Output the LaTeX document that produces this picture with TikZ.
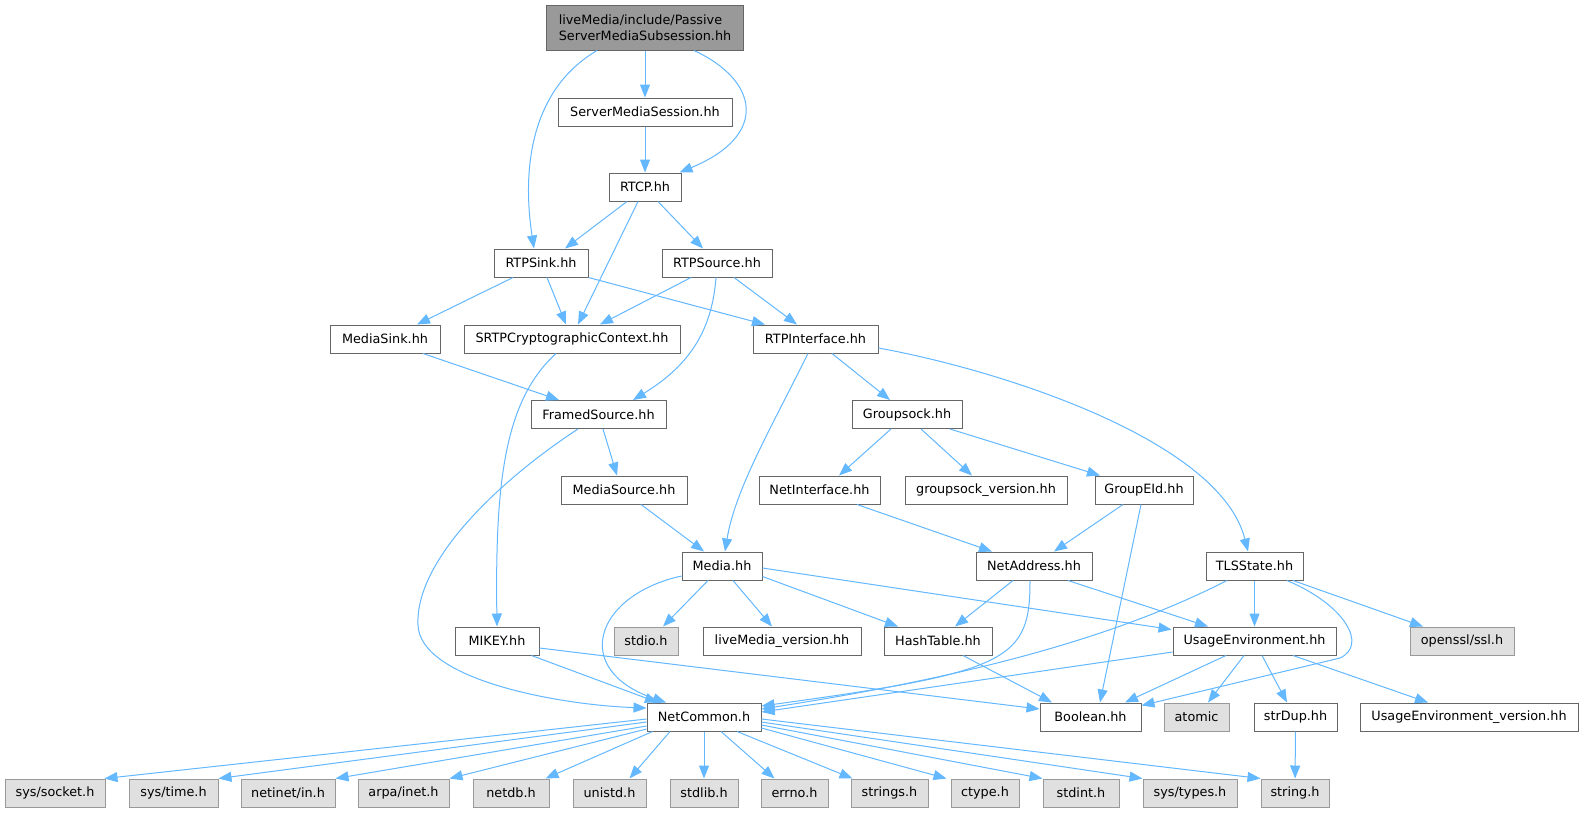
\documentclass[tikz,border=0pt]{standalone}
\usepackage{fontspec}
\setmainfont{DejaVu Sans}
\usetikzlibrary{arrows.meta}
\definecolor{edgec}{HTML}{63B8FF}
\definecolor{bordc}{HTML}{666666}
\definecolor{sysbord}{HTML}{999999}
\definecolor{sysfill}{HTML}{E0E0E0}
\definecolor{rootfill}{HTML}{999999}
\begin{document}
\begin{tikzpicture}[x=1pt,y=-1pt,
  box/.style={draw=bordc, line width=1pt, fill=white, minimum height=28pt, inner sep=0pt,
    font=\fontsize{12.8}{16.5}\selectfont, text=black},
  sys/.style={box, draw=sysbord, fill=sysfill},
  inc/.style={draw=edgec, line width=1pt, -{Triangle[length=13pt,width=10pt]}}]
\fill[white] (0,0) rectangle (1590,812);
\useasboundingbox (0,0) rectangle (1590,812);
% nodes
\node[box, fill=rootfill, minimum width=197pt, minimum height=45pt, align=left] (root) at (645,27.5) {liveMedia/include/Passive\\ServerMediaSubsession.hh};
\node[box, minimum width=174pt] (sms) at (645,112) {ServerMediaSession.hh};
\node[box, minimum width=72pt] (rtcp) at (645,187) {RTCP.hh};
\node[box, minimum width=94pt] (rtpsink) at (541,263) {RTPSink.hh};
\node[box, minimum width=110pt] (rtpsource) at (717,263) {RTPSource.hh};
\node[box, minimum width=110pt] (mediasink) at (385,339) {MediaSink.hh};
\node[box, minimum width=216pt] (srtp) at (572,339) {SRTPCryptographicContext.hh};
\node[box, minimum width=125pt] (rtpif) at (815.5,339) {RTPInterface.hh};
\node[box, minimum width=135pt] (framed) at (598.5,414.5) {FramedSource.hh};
\node[box, minimum width=110pt] (groupsock) at (907,414.5) {Groupsock.hh};
\node[box, minimum width=126pt] (mediasource) at (624,490) {MediaSource.hh};
\node[box, minimum width=121pt] (netif) at (819.5,490) {NetInterface.hh};
\node[box, minimum width=162pt] (gsver) at (986,490) {groupsock\_version.hh};
\node[box, minimum width=98pt] (groupeid) at (1144,490) {GroupEId.hh};
\node[box, minimum width=80pt] (media) at (722,566) {Media.hh};
\node[box, minimum width=116pt] (netaddr) at (1034,566) {NetAddress.hh};
\node[box, minimum width=97pt] (tls) at (1254.5,566) {TLSState.hh};
\node[box, minimum width=84pt] (mikey) at (497,641) {MIKEY.hh};
\node[sys, minimum width=64pt] (stdio) at (646,641) {stdio.h};
\node[box, minimum width=158pt] (lmver) at (782,641) {liveMedia\_version.hh};
\node[box, minimum width=108pt] (hashtable) at (938,641) {HashTable.hh};
\node[box, minimum width=163pt] (usageenv) at (1254.5,641) {UsageEnvironment.hh};
\node[sys, minimum width=104pt] (openssl) at (1462,641) {openssl/ssl.h};
\node[box, minimum width=114pt] (nc) at (704,717) {NetCommon.h};
\node[box, minimum width=101pt] (boolean) at (1090.5,717) {Boolean.hh};
\node[sys, minimum width=65pt] (atomic) at (1196.5,717) {atomic};
\node[box, minimum width=83pt] (strdup) at (1295.5,717) {strDup.hh};
\node[box, minimum width=218pt] (uever) at (1469,717) {UsageEnvironment\_version.hh};
\node[sys, minimum width=100pt] (socket) at (55,793) {sys/socket.h};
\node[sys, minimum width=89pt] (time) at (173.5,793) {sys/time.h};
\node[sys, minimum width=94pt] (netinet) at (288,793) {netinet/in.h};
\node[sys, minimum width=91pt] (arpa) at (403.5,793) {arpa/inet.h};
\node[sys, minimum width=76pt] (netdb) at (511,793) {netdb.h};
\node[sys, minimum width=73pt] (unistd) at (609.5,793) {unistd.h};
\node[sys, minimum width=68pt] (stdlib) at (704,793) {stdlib.h};
\node[sys, minimum width=67pt] (errno) at (794.5,793) {errno.h};
\node[sys, minimum width=77pt] (strings) at (889.5,793) {strings.h};
\node[sys, minimum width=68pt] (ctype) at (985,793) {ctype.h};
\node[sys, minimum width=76pt] (stdint) at (1081,793) {stdint.h};
\node[sys, minimum width=94pt] (systypes) at (1190,793) {sys/types.h};
\node[sys, minimum width=68pt] (string) at (1295,793) {string.h};
% edges
\draw[inc] ([xshift=-48pt]root.south) .. controls (530,90) and (522,170) .. ([xshift=-7pt]rtpsink.north);
\draw[inc] (root.south) -- (sms.north);
\draw[inc] ([xshift=49pt]root.south) .. controls (758,80) and (770,135) .. ([xshift=-2pt]rtcp.north east);
\draw[inc] (sms) -- (rtcp);
\draw[inc] ([xshift=-18pt]rtcp.south) -- ([xshift=24pt]rtpsink.north);
\draw[inc] ([xshift=-7pt]rtcp.south) -- ([xshift=6pt]srtp.north);
\draw[inc] ([xshift=13pt]rtcp.south) -- ([xshift=-14pt]rtpsource.north);
\draw[inc] ([xshift=-28pt]rtpsink.south) -- ([xshift=32pt]mediasink.north);
\draw[inc] ([xshift=6pt]rtpsink.south) -- ([xshift=-6pt]srtp.north);
\draw[inc] (rtpsink.south east) -- ([xshift=-50.5pt]rtpif.north);
\draw[inc] ([xshift=-26pt]rtpsource.south) -- ([xshift=28pt]srtp.north);
\draw[inc] ([xshift=-1pt]rtpsource.south) .. controls (712,330) and (690,365) .. ([xshift=34.5pt]framed.north);
\draw[inc] ([xshift=17pt]rtpsource.south) -- ([xshift=-18.5pt]rtpif.north);
\draw[inc] ([xshift=38pt]mediasink.south) -- ([xshift=-39.5pt]framed.north);
\draw[inc] ([xshift=-16pt]srtp.south) .. controls (505,400) and (495,480) .. (mikey.north);
\draw[inc] ([xshift=-20.5pt]framed.south) .. controls (500,480) and (415,560) .. (418,625) .. controls (420,680) and (560,705) .. ([yshift=9pt]nc.west);
\draw[inc] ([xshift=4.5pt]framed.south) -- ([xshift=-7pt]mediasource.north);
\draw[inc] ([xshift=-7.5pt]rtpif.south) .. controls (770,430) and (735,490) .. ([xshift=3pt]media.north);
\draw[inc] ([xshift=16.5pt]rtpif.south) -- ([xshift=-17pt]groupsock.north);
\draw[inc] ([yshift=-9pt]rtpif.east) .. controls (1000,370) and (1220,440) .. ([xshift=-6.5pt]tls.north);
\draw[inc] ([xshift=-16pt]groupsock.south) -- ([xshift=19.5pt]netif.north);
\draw[inc] ([xshift=14pt]groupsock.south) -- ([xshift=-14pt]gsver.north);
\draw[inc] ([xshift=43pt]groupsock.south) -- ([xshift=-44pt]groupeid.north);
\draw[inc] ([xshift=17pt]mediasource.south) -- ([xshift=-18pt]media.north);
\draw[inc] ([xshift=37.5pt]netif.south) -- ([xshift=-42pt]netaddr.north);
\draw[inc] ([xshift=-21pt]groupeid.south) -- ([xshift=20pt]netaddr.north);
\draw[inc] ([xshift=-3pt]groupeid.south) -- ([xshift=9.5pt]boolean.north);
\draw[inc] ([xshift=-14pt]media.south) -- ([xshift=17pt]stdio.north);
\draw[inc] ([xshift=11pt]media.south) -- ([xshift=-10pt]lmver.north);
\draw[inc] ([yshift=4pt]media.south east) -- ([xshift=-40pt]hashtable.north);
\draw[inc] ([yshift=-2pt]media.east) -- ([xshift=-1pt,yshift=-3pt]usageenv.north west);
\draw[inc] ([yshift=-10pt]media.west) .. controls (595,595) and (570,670) .. ([xshift=-38pt]nc.north);
\draw[inc] ([xshift=-8pt]mikey.south east) -- ([xshift=-46pt]nc.north);
\draw[inc] ([yshift=-7pt]mikey.east) -- ([yshift=8pt]boolean.west);
\draw[inc] ([xshift=25pt]hashtable.south) -- ([xshift=-38.5pt]boolean.north);
\draw[inc] ([xshift=-21pt]netaddr.south) -- ([xshift=17pt]hashtable.north);
\draw[inc] ([xshift=-4pt]netaddr.south) .. controls (1030,660) and (1010,672) .. ([yshift=11pt]nc.east);
\draw[inc] ([xshift=34pt]netaddr.south) -- ([xshift=-46.5pt]usageenv.north);
\draw[inc] ([xshift=-27.5pt]tls.south) .. controls (1120,635) and (980,675) .. ([yshift=8pt]nc.east);
\draw[inc] (tls) -- (usageenv);
\draw[inc] ([xshift=32.5pt]tls.south) .. controls (1345,605) and (1368,645) .. (1340,658) -- ([yshift=-3pt]boolean.north east);
\draw[inc] ([xshift=38.5pt]tls.south) -- ([xshift=-39pt]openssl.north);
\draw[inc] ([yshift=-11pt]usageenv.west) -- ([yshift=5pt]nc.east);
\draw[inc] ([xshift=-28.5pt]usageenv.south) -- ([xshift=34.5pt]boolean.north);
\draw[inc] ([xshift=-10.5pt]usageenv.south) -- ([xshift=11.5pt]atomic.north);
\draw[inc] ([xshift=7.5pt]usageenv.south) -- ([xshift=-8.5pt]strdup.north);
\draw[inc] ([xshift=38.5pt]usageenv.south) -- ([xshift=-41pt]uever.north);
\draw[inc] (strdup) -- (string);
% NetCommon fan
\draw[inc] ([yshift=-2pt]nc.west) -- ([xshift=-1pt]socket.north east);
\draw[inc] ([yshift=-5pt]nc.west) -- (time.north east);
\draw[inc] ([yshift=-9pt]nc.west) -- (netinet.north east);
\draw[inc] ([yshift=-12pt]nc.west) -- (arpa.north east);
\draw[inc] ([xshift=6pt]nc.south west) -- ([xshift=-4pt]netdb.north east);
\draw[inc] ([xshift=-34pt]nc.south) -- ([xshift=20pt]unistd.north);
\draw[inc] (nc.south) -- (stdlib.north);
\draw[inc] ([xshift=17pt]nc.south) -- ([xshift=-20pt]errno.north);
\draw[inc] ([xshift=33pt]nc.south) -- ([xshift=-37pt]strings.north);
\draw[inc] ([yshift=-11pt]nc.east) -- ([xshift=-4pt]ctype.north west);
\draw[inc] ([yshift=-8pt]nc.east) -- (stdint.north west);
\draw[inc] ([yshift=-5pt]nc.east) -- (systypes.north west);
\draw[inc] ([yshift=-2pt]nc.east) -- (string.north west);
\end{tikzpicture}
\end{document}
